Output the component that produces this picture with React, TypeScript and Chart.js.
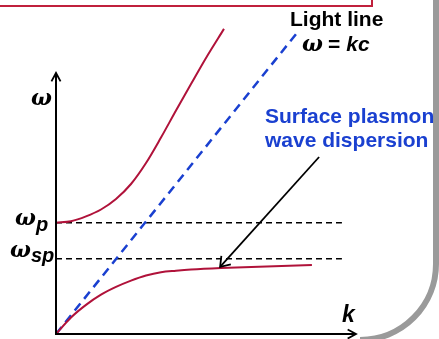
import React, { useEffect, useRef } from "react";
import { Chart, registerables } from "chart.js";

Chart.register(...registerables);

// Upper (bulk plasmon) branch
const upperK = [0, 0.5, 1.0, 1.5, 2.0, 2.5, 3.0, 3.5, 4.0, 4.5, 5.0, 5.6];
const upperW = [3.71, 3.76, 3.92, 4.15, 4.5, 5.0, 5.7, 6.55, 7.45, 8.33, 9.2, 10.17];
// Lower (surface plasmon) branch
const lowerK = [0, 0.5, 1.0, 1.5, 2.0, 2.5, 3.0, 3.5, 4.0, 4.5, 5.5, 8.53];
const lowerW = [0, 0.55, 0.97, 1.31, 1.57, 1.78, 1.95, 2.06, 2.11, 2.15, 2.2, 2.3];
// Light line  w = kc
const lightK = [0, 8.05];
const lightW = [0, 10.06];
// Reference frequencies
const omegaP = 3.71;
const omegaSP = 2.51;
const dashK = [0, 9.53];
// Axes extents
const kAxisMax = 10;
const wAxisMax = 8.7;
// Annotation arrow (from label to the surface branch)
const arrowFromK = 8.77;
const arrowFromW = 5.9;
const arrowToK = 5.47;
const arrowToW = 2.24;

const RED = "#b0123a";
const BLUE = "#1a40d0";
const SANS = '"Liberation Sans", Arial, sans-serif';
const SERIF = '"DejaVu Serif", "Liberation Serif", serif';

const pts = (xs: number[], ys: number[]) => xs.map((x, i) => ({ x, y: ys[i] }));

function openHead(ctx: CanvasRenderingContext2D, tx: number, ty: number, fx: number, fy: number, len: number, spread: number) {
  const a = Math.atan2(ty - fy, tx - fx);
  ctx.beginPath();
  ctx.moveTo(tx - len * Math.cos(a - spread), ty - len * Math.sin(a - spread));
  ctx.lineTo(tx, ty);
  ctx.lineTo(tx - len * Math.cos(a + spread), ty - len * Math.sin(a + spread));
  ctx.stroke();
}

const decorPlugin = {
  id: "decor",
  afterDatasetsDraw(chart: any) {
    const { ctx, scales } = chart;
    const xs = scales.x;
    const ys = scales.y;
    const X = (v: number) => xs.getPixelForValue(v);
    const Y = (v: number) => ys.getPixelForValue(v);
    ctx.save();

    // top box remnant
    ctx.strokeStyle = "#c0203c";
    ctx.lineWidth = 2;
    ctx.strokeRect(-10, -10, 382, 16);

    // rounded grey frame
    ctx.strokeStyle = "#9a9a9a";
    ctx.lineWidth = 6;
    ctx.beginPath();
    ctx.moveTo(436, -10);
    ctx.lineTo(436, 264);
    ctx.arc(360, 264, 76, 0, Math.PI / 2);
    ctx.stroke();

    // axes
    const ox = X(0);
    const oy = Y(0);
    ctx.strokeStyle = "#000";
    ctx.lineWidth = 2;
    ctx.beginPath();
    ctx.moveTo(ox, oy);
    ctx.lineTo(ox, Y(wAxisMax));
    ctx.moveTo(ox - 1, oy);
    ctx.lineTo(X(kAxisMax), oy);
    ctx.stroke();
    ctx.lineWidth = 1.8;
    openHead(ctx, ox, Y(wAxisMax), ox, oy, 9.5, 0.5);
    openHead(ctx, X(kAxisMax), oy, ox, oy, 9.5, 0.5);

    // annotation arrow
    const ax0 = X(arrowFromK), ay0 = Y(arrowFromW);
    const ax1 = X(arrowToK), ay1 = Y(arrowToW);
    ctx.lineWidth = 1.8;
    ctx.beginPath();
    ctx.moveTo(ax0, ay0);
    ctx.lineTo(ax1, ay1);
    ctx.stroke();
    openHead(ctx, ax1, ay1, ax0, ay0, 11, 0.62);

    // texts
    ctx.textBaseline = "alphabetic";
    ctx.textAlign = "left";
    ctx.fillStyle = "#000";
    ctx.font = `bold 21px ${SANS}`;
    ctx.fillText("Light line", 290, 26);

    const OMEGA_FONT = `bold italic 22px ${SERIF}`;
    let x = 302;
    ctx.font = OMEGA_FONT;
    ctx.fillText("\u03C9", x, 51);
    x += ctx.measureText("\u03C9").width + 5;
    ctx.font = `bold 21px ${SANS}`;
    ctx.fillText("=", x, 51);
    x += ctx.measureText("=").width + 6;
    ctx.font = `bold italic 21px ${SANS}`;
    ctx.fillText("kc", x, 51);

    ctx.fillStyle = BLUE;
    ctx.font = `bold 21px ${SANS}`;
    ctx.fillText("Surface plasmon", 265, 123);
    ctx.fillText("wave dispersion", 265, 147);

    ctx.fillStyle = "#000";
    ctx.font = OMEGA_FONT;
    ctx.fillText("\u03C9", 31, 105);

    const py = Y(omegaP);
    ctx.fillText("\u03C9", 15, py + 2.5);
    const wW = ctx.measureText("\u03C9").width;
    ctx.font = `bold italic 20px ${SANS}`;
    ctx.fillText("p", 15 + wW, py + 8.5);

    const sy = Y(omegaSP);
    ctx.font = OMEGA_FONT;
    ctx.fillText("\u03C9", 10, sy - 1.5);
    ctx.font = `bold italic 20px ${SANS}`;
    ctx.fillText("sp", 10 + wW, sy + 3.5);

    ctx.font = `bold italic 23px ${SANS}`;
    ctx.fillText("k", 342, 322);

    ctx.restore();
  },
};

export default function App() {
  const ref = useRef<HTMLCanvasElement>(null);
  useEffect(() => {
    if (!ref.current) return;
    const chart = new Chart(ref.current, {
      type: "scatter",
      data: {
        datasets: [
          {
            data: pts(upperK, upperW),
            showLine: true,
            borderColor: RED,
            borderWidth: 2,
            pointRadius: 0,
            cubicInterpolationMode: "monotone",
            clip: false,
            order: 0,
          },
          {
            data: pts(lowerK, lowerW),
            showLine: true,
            borderColor: RED,
            borderWidth: 2,
            pointRadius: 0,
            cubicInterpolationMode: "monotone",
            clip: false,
            order: 0,
          },
          {
            data: pts(lightK, lightW),
            showLine: true,
            borderColor: BLUE,
            borderWidth: 2.5,
            borderDash: [9, 6],
            pointRadius: 0,
            clip: false,
            order: 1,
          },
          {
            data: pts(dashK, [omegaP, omegaP]),
            showLine: true,
            borderColor: "#000",
            borderWidth: 1.5,
            borderDash: [6, 4],
            pointRadius: 0,
            clip: false,
            order: 2,
          },
          {
            data: pts(dashK, [omegaSP, omegaSP]),
            showLine: true,
            borderColor: "#000",
            borderWidth: 1.5,
            borderDash: [6, 4],
            pointRadius: 0,
            clip: false,
            order: 2,
          },
        ],
      } as any,
      options: {
        animation: false,
        responsive: false,
        devicePixelRatio: 1,
        layout: { padding: { left: 56, right: 83, top: 28, bottom: 5 } },
        plugins: { legend: { display: false }, tooltip: { enabled: false } },
        events: [],
        scales: {
          x: { type: "linear", min: 0, max: 10, display: false },
          y: { type: "linear", min: 0, max: 10.2, display: false },
        },
      } as any,
      plugins: [decorPlugin],
    });
    return () => chart.destroy();
  }, []);
  return (
    <div style={{ position: "fixed", left: 0, top: 0, width: 439, height: 339, background: "#fff" }}>
      <canvas ref={ref} width={439} height={339} style={{ display: "block" }} />
    </div>
  );
}
